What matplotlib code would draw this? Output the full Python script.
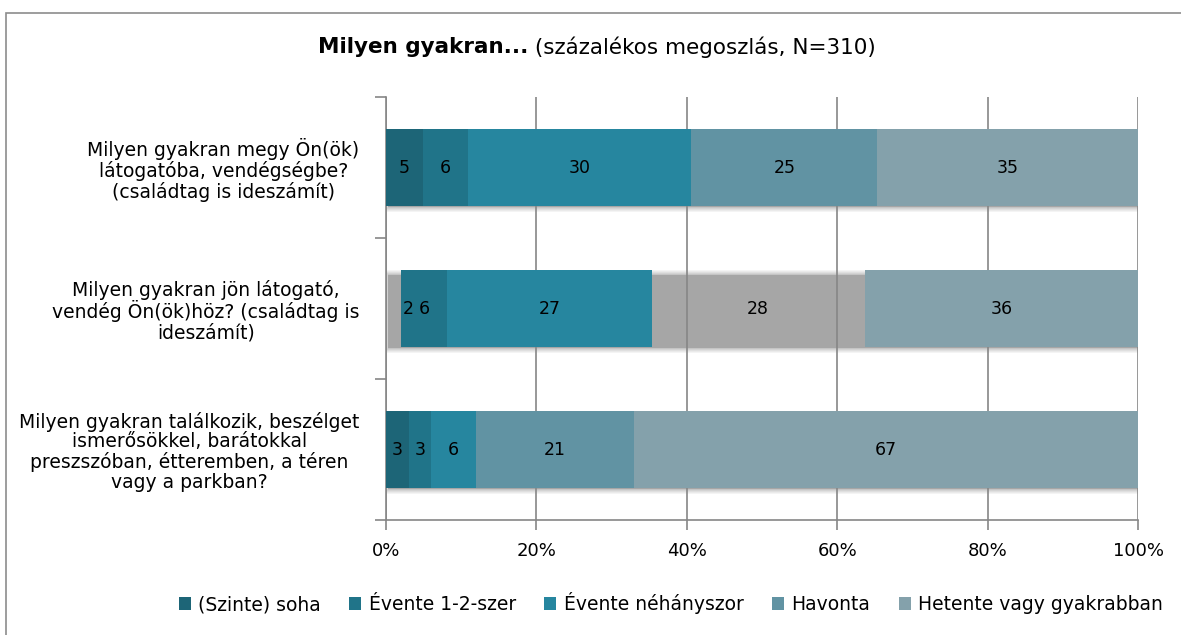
import matplotlib.pyplot as plt
from matplotlib.patches import Rectangle
import numpy as np

plt.rcParams['font.family'] = ['DejaVu Sans']

# data labels as shown in the chart (percent, rounded)
questions = [
    "Milyen gyakran megy Ön(ök)\nlátogatóba, vendégségbe?\n(családtag is ideszámít)",
    "Milyen gyakran jön látogató,\nvendég Ön(ök)höz? (családtag is\nideszámít)",
    "Milyen gyakran találkozik, beszélget\nismerősökkel, barátokkal\npreszszóban, étteremben, a téren\nvagy a parkban?",
]
answers = ["(Szinte) soha", "Évente 1-2-szer", "Évente néhányszor", "Havonta",
           "Hetente vagy gyakrabban"]
soha = [5, 2, 3]
evente12 = [6, 6, 3]
eventeneh = [30, 27, 6]
havonta = [25, 28, 21]
hetente = [35, 36, 67]
xticks = [0, 20, 40, 60, 80, 100]
xticklabels = ["0%", "20%", "40%", "60%", "80%", "100%"]

colors = ["#1d6577", "#207489", "#26869f", "#6193a3", "#84a1ab"]
shadow_col = "#a6a6a6"
# in row 2 two segments have no fill, only the grey shadow shows
nofill = {(1, 0), (1, 3)}

series = np.array([soha, evente12, eventeneh, havonta, hetente], dtype=float)
pct = series / series.sum(axis=0) * 100

fig = plt.figure(figsize=(11.81, 6.35), dpi=100)
fig.patches.append(Rectangle((0.005, -0.01), 1.0, 0.99, transform=fig.transFigure,
                             fill=False, edgecolor="#8c8c8c", linewidth=1.2))
ax = fig.add_axes([0.3268, 0.1811, 0.6368, 0.6661])

y = np.arange(len(questions))
h = 0.545

# drop shadow (soft, offset down-right)
for i in y:
    for k, a in zip(range(6), [0.12, 0.12, 0.15, 0.2, 0.3, 1.0]):
        grow = (5 - k) * 0.007
        ax.barh(i + 0.02, 100 + grow * 20, height=h + grow * 2 - 0.03,
                left=0.3 - grow * 10, color=shadow_col, alpha=a,
                zorder=2, linewidth=0)

left = np.zeros(len(questions))
for j in range(len(answers)):
    for i in y:
        if (i, j) in nofill:
            continue
        ax.barh(i, pct[j, i], height=h, left=left[i], color=colors[j],
                zorder=3, linewidth=0)
    for i in y:
        w = pct[j, i]
        xc = left[i] + w / 2
        if w < 2.5:
            xc = left[i] + w + 1.0
        ax.text(xc, i, f"{int(series[j, i])}", ha="center", va="center",
                fontsize=12.5, color="black", zorder=4)
    left += pct[j]

# legend handles
for j in range(len(answers)):
    ax.barh(np.nan, 0, color=colors[j], label=answers[j])

ax.set_xlim(0, 100)
ax.set_ylim(2.5, -0.5)
ax.set_xticks(xticks)
ax.set_xticklabels(xticklabels, fontsize=13)
ax.set_yticks(y)
ax.set_yticklabels(questions, fontsize=13.5, multialignment="center",
                   linespacing=1.05)
ax.set_yticks([-0.5, 0.5, 1.5, 2.5], minor=True)
ax.tick_params(axis="y", which="major", length=0, pad=19)
ax.tick_params(axis="y", which="minor", length=8, color="#868686", width=1.2)
ax.tick_params(axis="x", length=7, color="#868686", width=1.2, pad=9)

ax.grid(axis="x", color="#868686", linewidth=1.2)
ax.set_axisbelow(False)
for s in ["top", "right"]:
    ax.spines[s].set_visible(False)
for s in ["left", "bottom"]:
    ax.spines[s].set_color("#868686")
    ax.spines[s].set_linewidth(1.2)
    ax.spines[s].set_zorder(2.5)

t1 = fig.text(0.269, 0.926, "Milyen gyakran...", fontsize=15.5, fontweight="bold",
              ha="left", va="center")
ax.annotate(" (százalékos megoszlás, N=310)", xy=(1, 0.5), xycoords=t1,
            ha="left", va="center", fontsize=15.5)

fig.legend(loc="center", bbox_to_anchor=(0.568, 0.05), ncol=5, frameon=False,
           fontsize=13.5, handlelength=0.65, handleheight=0.65, handletextpad=0.4,
           columnspacing=1.5)

fig.savefig("out.png", dpi=100)
